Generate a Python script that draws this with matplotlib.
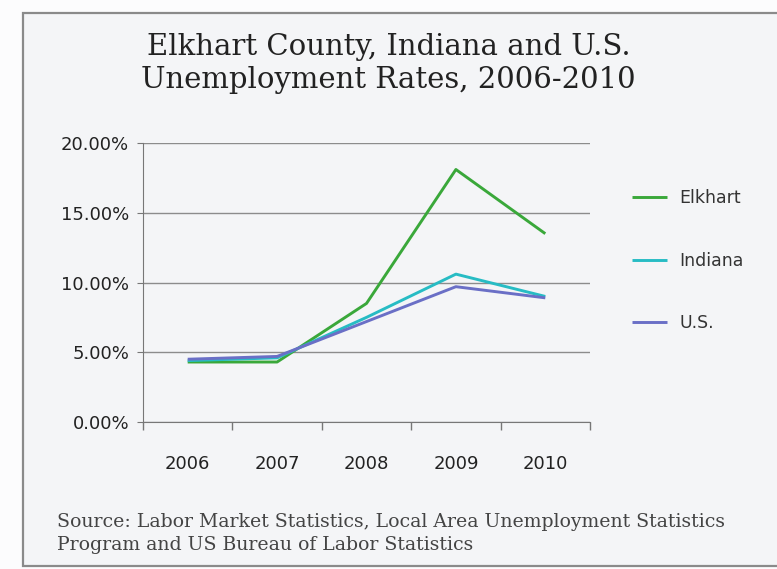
import numpy as np
import matplotlib.pyplot as plt
from matplotlib.patches import Rectangle

years = ["2006", "2007", "2008", "2009", "2010"]
elkhart = [4.3, 4.3, 8.5, 18.1, 13.5]
indiana = [4.4, 4.6, 7.5, 10.6, 9.0]
us = [4.5, 4.7, 7.2, 9.7, 8.9]
series_names = ["Elkhart", "Indiana", "U.S."]
series_colors = ["#3aa83a", "#27bcc4", "#6a6fc6"]

fig = plt.figure(figsize=(7.77, 5.69), dpi=100)
fig.patch.set_facecolor("#fcfcfd")

# outer frame, kept behind the axes
frame = Rectangle((23/777, 3/569), 1.0, (566 - 13)/569, transform=fig.transFigure,
                  facecolor="#f4f5f7", edgecolor="#8a8a8a", linewidth=1.6, zorder=-5)
fig.patches.append(frame)

ax = fig.add_axes([143/777, 1 - 422/569, (590 - 143)/777, (422 - 143)/569])
ax.set_facecolor("none")

x = np.arange(len(years))
for vals, name, col in zip([elkhart, indiana, us], series_names, series_colors):
    ax.plot(x, vals, color=col, lw=2.1, label=name, solid_capstyle="butt")

ax.set_xlim(-0.5, 4.5)
ax.set_ylim(0, 20)
ax.set_yticks([0, 5, 10, 15, 20])
ax.set_yticklabels(["0.00%", "5.00%", "10.00%", "15.00%", "20.00%"])
ax.set_xticks(np.arange(-0.5, 5, 1))
ax.set_xticklabels([])
ax.set_xticks(x, minor=True)
ax.set_xticklabels(years, minor=True)
ax.tick_params(axis="x", which="minor", length=0, pad=24, labelsize=13, labelcolor="#222")
ax.tick_params(axis="x", which="major", length=6, color="#777", width=1)
ax.tick_params(axis="y", length=4, color="#777", pad=6, labelsize=13, labelcolor="#222")
ax.grid(axis="y", color="#8c8c8c", lw=1)
ax.set_axisbelow(True)
for s in ["top", "right"]:
    ax.spines[s].set_visible(False)
for s in ["left", "bottom"]:
    ax.spines[s].set_color("#777")

ax.legend(loc="upper left", bbox_to_anchor=(1.06, 0.89), frameon=False, fontsize=12.5,
          handlelength=2.0, labelspacing=2.55, handletextpad=0.7, labelcolor="#333")

fig.text(0.5, 1 - 47/569, "Elkhart County, Indiana and U.S.", ha="center", va="center",
         family="DejaVu Serif", fontsize=21, color="#222")
fig.text(0.5, 1 - 80/569, "Unemployment Rates, 2006-2010", ha="center", va="center",
         family="DejaVu Serif", fontsize=21, color="#222")
fig.text(57/777, 1 - 522/569, "Source: Labor Market Statistics, Local Area Unemployment Statistics",
         ha="left", va="center", family="DejaVu Serif", fontsize=13.6, color="#444")
fig.text(57/777, 1 - 545/569, "Program and US Bureau of Labor Statistics",
         ha="left", va="center", family="DejaVu Serif", fontsize=13.6, color="#444")

fig.savefig("out.png", dpi=100, facecolor=fig.get_facecolor())
